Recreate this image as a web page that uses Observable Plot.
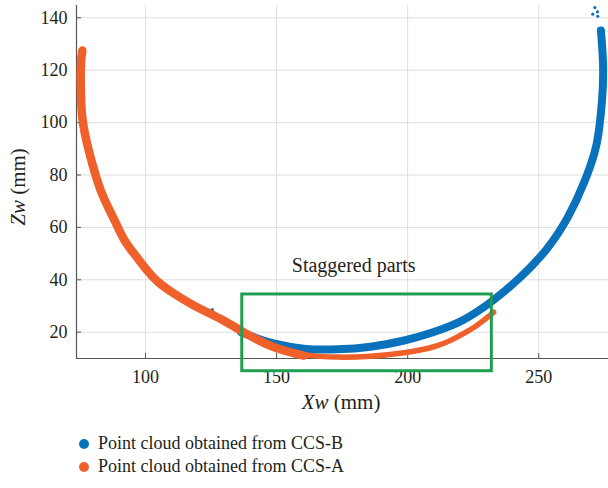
<!DOCTYPE html>
<html><head><meta charset="utf-8">
<script src="https://cdn.jsdelivr.net/npm/d3@7"></script>
<script src="https://cdn.jsdelivr.net/npm/@observablehq/plot@0.6"></script>
<style>
body{margin:0;background:#fff;color:#231f20}
#chart svg{display:block}
#chart svg text{font-family:"Liberation Serif","Times New Roman",serif !important}
#legend{margin-top:4px;padding-left:79px;font-size:18px;line-height:23px;font-family:"Liberation Serif","Times New Roman",serif !important}
.item{display:flex;align-items:center;height:23px;font-family:"Liberation Serif","Times New Roman",serif}
.sw{width:10px;height:10px;border-radius:50%;margin-right:9px;display:inline-block}
</style></head><body><div id="chart"></div><div id="legend"></div>
<script>
// ---- data ----
const seriesNames = ["Point cloud obtained from CCS-B", "Point cloud obtained from CCS-A"];
const seriesColors = ["#0a72bd", "#f0602a"];

// CCS-B (blue) point cloud centre line
const ccsBx = [136.5, 142.6, 147.5, 160.3, 173.2, 185.9, 198.5, 209.5, 221.5, 232.8, 241.9, 253.3, 261.5, 267.3, 271.8, 272.9, 274.3, 274.8, 273.7];
const ccsBz = [20.0, 17.6, 15.8, 13.3, 13.3, 14.2, 16.6, 19.8, 24.2, 32.1, 39.7, 51.2, 63.9, 76.6, 89.4, 96.0, 108.7, 121.5, 135.2];
// CCS-B stray points
const strayBx = [125.5, 270.6, 272.4, 271.4, 272.5];
const strayBz = [28.6, 141.4, 142.3, 143.9, 140.6];

// CCS-A (orange) point cloud centre line
const ccsAx = [75.9, 75.4, 75.2, 75.4, 76.1, 77.4, 79.0, 80.8, 82.8, 85.7, 88.9, 91.7, 96.8, 100.6, 104.5, 110.8, 117.2, 123.5, 129.9, 136.3, 148.0, 160.3, 173.2, 185.9, 198.5, 211.3, 216.4, 221.4, 226.6, 230.4, 232.8];
const ccsAz = [127.5, 124.0, 118.6, 105.9, 99.5, 93.1, 86.7, 80.4, 74.0, 67.6, 61.4, 54.9, 48.5, 43.5, 39.0, 34.7, 30.8, 27.6, 24.5, 20.6, 14.0, 11.1, 10.3, 10.7, 11.9, 14.5, 16.8, 19.5, 22.6, 25.6, 27.6];

const xTicks = [100, 150, 200, 250];
const zTicks = [20, 40, 60, 80, 100, 120, 140];
const xDomain = [73.67, 276.6];
const zDomain = [9.96, 144.7];

// annotation box and label
const boxX = [136.9, 232.1];
const boxZ = [5.1, 34.4];
const noteText = ["Staggered parts"];
const noteX = [179.4];
const noteZ = [45.5];

// ---- build tables ----
const B = ccsBx.map((x, i) => ({x, z: ccsBz[i]}));
const A = ccsAx.map((x, i) => ({x, z: ccsAz[i]}));
const strayB = strayBx.map((x, i) => ({x, z: strayBz[i]}));
const box = [{x1: boxX[0], x2: boxX[1], y1: boxZ[0], y2: boxZ[1]}];
const notes = noteText.map((t, i) => ({t, x: noteX[i], z: noteZ[i]}));
const splitIndex = ccsAx.indexOf(148.0);
const Athick = A.slice(0, splitIndex + 2);
const Athin = A.slice(splitIndex - 1);

const W = 608, H = 428, mT = 5, mB = 70, mL = 76, mR = 0;
const plotH = H - mT - mB, plotW = W - mL - mR;
const grid = "#dedede", axisC = "#555", textC = "#231f20";
const serif = "'Liberation Serif', 'Times New Roman', serif";
const lineStyle = {x: "x", y: "z", curve: "basis", strokeLinecap: "round", strokeLinejoin: "round"};

const chart = Plot.plot({
  width: W, height: H,
  marginTop: mT, marginBottom: mB, marginLeft: mL, marginRight: mR,
  style: {fontFamily: serif, fontSize: "18px", background: "#fff", color: textC},
  x: {domain: xDomain, label: null},
  y: {domain: zDomain, label: null},
  marks: [
    Plot.gridX(xTicks, {stroke: grid, strokeOpacity: 1}),
    Plot.gridY(zTicks, {stroke: grid, strokeOpacity: 1}),
    Plot.ruleX([xDomain[0]], {stroke: axisC, strokeWidth: 1.2}),
    Plot.ruleY([zDomain[0]], {stroke: axisC, strokeWidth: 1.2}),
    Plot.tickX(xTicks, {x: d => d, stroke: axisC, insetTop: plotH - 5}),
    Plot.tickY(zTicks, {y: d => d, stroke: axisC, insetRight: plotW - 5}),
    Plot.axisX(xTicks, {tickSize: 0, tickPadding: 12, fontSize: 18, fontFamily: serif, fill: textC}),
    Plot.axisY(zTicks, {tickSize: 0, tickPadding: 9, fontSize: 18, fontFamily: serif, fill: textC}),
    Plot.line(B, {...lineStyle, stroke: seriesColors[0], strokeWidth: 8}),
    Plot.dot(strayB, {x: "x", y: "z", r: 1.6, fill: seriesColors[0]}),
    Plot.line(Athick, {...lineStyle, stroke: seriesColors[1], strokeWidth: 8.5}),
    Plot.line(Athin, {...lineStyle, stroke: seriesColors[1], strokeWidth: 5.5}),
    Plot.rect(box, {x1: "x1", x2: "x2", y1: "y1", y2: "y2", fill: "none", stroke: "#1f9e52", strokeWidth: 3}),
    Plot.text(notes, {x: "x", y: "z", text: "t", fontSize: 20, fontFamily: serif, fill: textC})
  ]
});
document.getElementById("chart").appendChild(chart);

// axis titles with italic variable names
const svg = d3.select(chart);
const xl = svg.append("text").attr("x", 341).attr("y", 409)
  .attr("text-anchor", "middle").attr("fill", textC).style("font-size", "21px");
xl.append("tspan").style("font-style", "italic").text("Xw");
xl.append("tspan").text(" (mm)");
const yl = svg.append("text").attr("transform", `translate(18,187) rotate(-90)`)
  .attr("text-anchor", "middle").attr("dy", "0.35em").attr("fill", textC).style("font-size", "21px");
yl.append("tspan").style("font-style", "italic").text("Zw");
yl.append("tspan").text(" (mm)");

// legend
const leg = d3.select("#legend");
seriesNames.forEach((n, i) => {
  const it = leg.append("div").attr("class", "item");
  it.append("span").attr("class", "sw").style("background", seriesColors[i]);
  it.append("span").text(n);
});
</script></body></html>
